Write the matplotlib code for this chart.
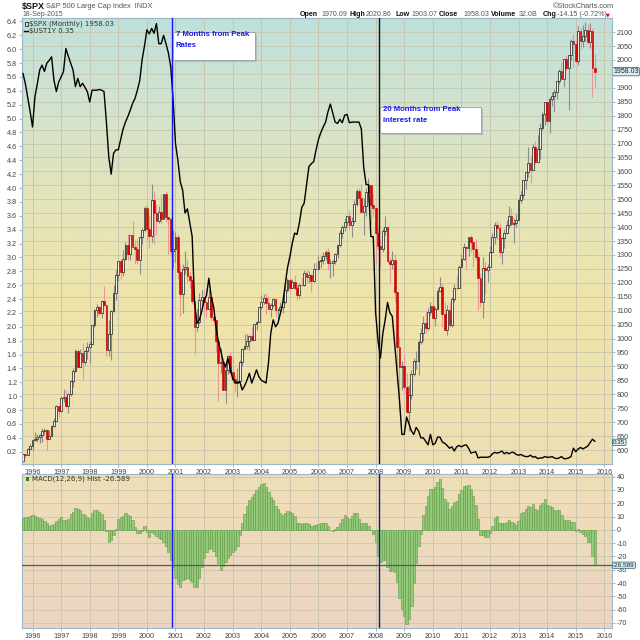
import numpy as np
import matplotlib
matplotlib.use("Agg")
import matplotlib.pyplot as plt
from matplotlib.colors import LinearSegmentedColormap
import matplotlib.transforms as mtransforms
from matplotlib.patches import Rectangle

# ---------------- data (monthly, Sep 1995 .. Sep 2015) ----------------
first_open = 561.88
spx_close = [
    584.41, 581.50, 605.37, 615.93,
    636.02, 640.43, 645.50, 654.17, 669.12, 670.63, 639.95, 651.99, 687.31, 705.27, 757.02, 740.74,
    786.16, 790.82, 757.12, 801.34, 848.28, 885.14, 954.31, 899.47, 947.28, 914.62, 955.40, 970.43,
    980.28, 1049.34, 1101.75, 1111.75, 1090.82, 1133.84, 1120.67, 957.28, 1017.01, 1098.67, 1163.63, 1229.23,
    1279.64, 1238.33, 1286.37, 1335.18, 1301.84, 1372.71, 1328.72, 1320.41, 1282.71, 1362.93, 1388.91, 1469.25,
    1394.46, 1366.42, 1498.58, 1452.43, 1420.60, 1454.60, 1430.83, 1517.68, 1436.51, 1429.40, 1314.95, 1320.28,
    1366.01, 1239.94, 1160.33, 1249.46, 1255.82, 1224.42, 1211.23, 1133.58, 1040.94, 1059.78, 1139.45, 1148.08,
    1130.20, 1106.73, 1147.39, 1076.92, 1067.14, 989.82, 911.62, 916.07, 815.28, 885.76, 936.31, 879.82,
    855.70, 841.15, 848.18, 916.92, 963.59, 974.50, 990.31, 1008.01, 995.97, 1050.71, 1058.20, 1111.92,
    1131.13, 1144.94, 1126.21, 1107.30, 1120.68, 1140.84, 1101.72, 1104.24, 1114.58, 1130.20, 1173.82, 1211.92,
    1181.27, 1203.60, 1180.59, 1156.85, 1191.50, 1191.33, 1234.18, 1220.33, 1228.81, 1207.01, 1249.48, 1248.29,
    1280.08, 1280.66, 1294.87, 1310.61, 1270.09, 1270.20, 1276.66, 1303.82, 1335.85, 1377.94, 1400.63, 1418.30,
    1438.24, 1406.82, 1420.86, 1482.37, 1530.62, 1503.35, 1455.27, 1473.99, 1526.75, 1549.38, 1481.14, 1468.36,
    1378.55, 1330.63, 1322.70, 1385.59, 1400.38, 1280.00, 1267.38, 1282.83, 1166.36, 968.75, 896.24, 903.25,
    825.88, 735.09, 797.87, 872.81, 919.14, 919.32, 987.48, 1020.62, 1057.08, 1036.19, 1095.63, 1115.10,
    1073.87, 1104.49, 1169.43, 1186.69, 1089.41, 1030.71, 1101.60, 1049.33, 1141.20, 1183.26, 1180.55, 1257.64,
    1286.12, 1327.22, 1325.83, 1363.61, 1345.20, 1320.64, 1292.28, 1218.89, 1131.42, 1253.30, 1246.96, 1257.60,
    1312.41, 1365.68, 1408.47, 1397.91, 1310.33, 1362.16, 1379.32, 1406.58, 1440.67, 1412.16, 1416.18, 1426.19,
    1498.11, 1514.68, 1569.19, 1597.57, 1630.74, 1606.28, 1685.73, 1632.97, 1681.55, 1756.54, 1805.81, 1848.36,
    1782.59, 1859.45, 1872.34, 1883.95, 1923.57, 1960.23, 1930.67, 2003.37, 1972.29, 2018.05, 2067.56, 2058.90,
    1994.99, 2104.50, 2067.89, 2085.51, 2107.39, 2063.11, 2103.84, 1972.18, 1958.03]
spx_high = [
    586, 587, 608, 622,
    637, 665, 659, 656, 680, 680, 675, 671, 690, 714, 762, 762,
    794, 818, 815, 804, 853, 894, 962, 961, 961, 983, 960, 987,
    993, 1050, 1106, 1124, 1122, 1139, 1190, 1122, 1066, 1104, 1193, 1245,
    1280, 1284, 1317, 1346, 1376, 1373, 1422, 1353, 1358, 1365, 1397, 1474,
    1478, 1444, 1553, 1528, 1482, 1477, 1518, 1520, 1531, 1437, 1438, 1390,
    1384, 1377, 1267, 1269, 1316, 1287, 1239, 1219, 1133, 1111, 1163, 1173,
    1176, 1131, 1173, 1147, 1107, 1070, 994, 966, 925, 907, 941, 954,
    935, 864, 895, 924, 965, 1015, 1015, 1011, 1040, 1054, 1063, 1112,
    1155, 1159, 1164, 1151, 1128, 1146, 1141, 1110, 1132, 1142, 1188, 1218,
    1218, 1213, 1229, 1192, 1200, 1217, 1246, 1245, 1244, 1233, 1271, 1276,
    1295, 1297, 1310, 1318, 1326, 1284, 1281, 1306, 1340, 1390, 1407, 1432,
    1441, 1461, 1438, 1498, 1535, 1541, 1556, 1504, 1539, 1576, 1545, 1523,
    1471, 1396, 1359, 1397, 1440, 1405, 1292, 1313, 1303, 1167, 1007, 918,
    943, 876, 832, 888, 930, 956, 996, 1039, 1080, 1101, 1111, 1130,
    1151, 1113, 1181, 1220, 1200, 1132, 1120, 1130, 1148, 1196, 1228, 1263,
    1302, 1344, 1332, 1365, 1371, 1346, 1357, 1308, 1230, 1293, 1278, 1269,
    1333, 1378, 1420, 1422, 1415, 1363, 1392, 1427, 1475, 1470, 1434, 1448,
    1509, 1531, 1570, 1598, 1687, 1654, 1698, 1710, 1730, 1775, 1814, 1849,
    1850, 1868, 1884, 1897, 1925, 1968, 1991, 2005, 2019, 2019, 2075, 2093,
    2072, 2120, 2115, 2126, 2135, 2130, 2133, 2113, 2021]
spx_low = [
    562, 572, 581, 602,
    597, 633, 627, 624, 630, 658, 601, 639, 650, 684, 703, 717,
    738, 773, 756, 733, 794, 826, 880, 896, 897, 855, 904, 925,
    912, 979, 1042, 1076, 1084, 1075, 1114, 939, 939, 923, 1095, 1137,
    1206, 1212, 1225, 1282, 1282, 1281, 1328, 1269, 1268, 1233, 1341, 1387,
    1350, 1325, 1346, 1339, 1373, 1416, 1413, 1431, 1419, 1305, 1295, 1254,
    1274, 1215, 1082, 1092, 1232, 1203, 1181, 1124, 945, 1026, 1054, 1114,
    1081, 1074, 1106, 1064, 1048, 953, 776, 877, 815, 768, 872, 872,
    840, 807, 789, 847, 902, 963, 962, 960, 990, 996, 1031, 1058,
    1106, 1124, 1088, 1107, 1076, 1113, 1079, 1060, 1101, 1091, 1127, 1168,
    1163, 1180, 1176, 1137, 1147, 1188, 1190, 1201, 1201, 1168, 1202, 1246,
    1245, 1253, 1268, 1282, 1245, 1219, 1224, 1266, 1290, 1327, 1360, 1385,
    1403, 1389, 1364, 1416, 1476, 1484, 1452, 1371, 1439, 1489, 1407, 1435,
    1270, 1317, 1257, 1312, 1373, 1272, 1200, 1248, 1133, 840, 741, 815,
    804, 735, 667, 783, 866, 889, 869, 979, 992, 1020, 1029, 1086,
    1071, 1045, 1105, 1170, 1041, 1029, 1011, 1040, 1042, 1131, 1173, 1187,
    1257, 1282, 1249, 1295, 1311, 1258, 1283, 1101, 1115, 1075, 1159, 1203,
    1259, 1312, 1341, 1357, 1292, 1267, 1325, 1375, 1396, 1403, 1343, 1399,
    1426, 1485, 1501, 1536, 1581, 1560, 1605, 1627, 1633, 1646, 1747, 1767,
    1770, 1738, 1834, 1814, 1860, 1915, 1930, 1904, 1964, 1821, 2001, 1973,
    1988, 1981, 2040, 2048, 2067, 2056, 2044, 1867, 1903]
ust1y = [
    5.65, 5.50, 5.30, 5.10,
    4.88, 5.31, 5.50, 5.70, 5.77, 5.68, 5.80, 5.84, 5.89, 5.55, 5.39, 5.53,
    5.60, 5.68, 6.01, 5.90, 5.80, 5.70, 5.46, 5.58, 5.46, 5.51, 5.45, 5.39,
    5.24, 5.41, 5.41, 5.41, 5.42, 5.41, 5.39, 4.95, 4.45, 4.20, 4.50, 4.55,
    4.55, 4.70, 4.85, 4.95, 5.03, 5.12, 5.22, 5.29, 5.41, 5.55, 5.85, 6.05,
    6.28, 6.22, 6.30, 6.23, 6.37, 6.08, 6.08, 6.20, 6.08, 5.95, 5.75, 5.27,
    4.64, 4.40, 4.09, 3.97, 3.64, 3.70, 3.50, 3.30, 2.35, 2.05, 2.10, 2.22,
    2.38, 2.45, 2.70, 2.43, 2.29, 2.00, 1.78, 1.65, 1.50, 1.42, 1.55, 1.40,
    1.25, 1.20, 1.19, 1.21, 1.09, 1.15, 1.23, 1.33, 1.19, 1.28, 1.38, 1.28,
    1.23, 1.21, 1.19, 1.47, 1.91, 2.10, 2.00, 2.05, 2.19, 2.34, 2.60, 2.85,
    3.01, 3.20, 3.35, 3.33, 3.50, 3.72, 3.78, 4.05, 4.31, 4.35, 4.38, 4.55,
    4.70, 4.80, 4.88, 4.95, 5.10, 5.21, 5.08, 4.95, 4.93, 4.99, 4.94, 5.05,
    5.06, 4.94, 4.95, 4.95, 4.95, 4.95, 4.85, 4.30, 4.05, 4.05, 3.30, 3.30,
    2.20, 1.80, 1.55, 1.90, 2.10, 2.35, 2.20, 2.15, 1.75, 1.35, 0.95, 0.45,
    0.45, 0.70, 0.60, 0.50, 0.45, 0.55, 0.50, 0.40, 0.40, 0.35, 0.30, 0.45,
    0.30, 0.32, 0.41, 0.41, 0.34, 0.32, 0.29, 0.25, 0.27, 0.21, 0.27, 0.29,
    0.27, 0.29, 0.30, 0.25, 0.18, 0.19, 0.20, 0.11, 0.12, 0.12, 0.12, 0.12,
    0.13, 0.17, 0.19, 0.18, 0.19, 0.21, 0.17, 0.19, 0.17, 0.19, 0.19, 0.16,
    0.15, 0.16, 0.14, 0.13, 0.13, 0.15, 0.12, 0.13, 0.10, 0.11, 0.11, 0.13,
    0.12, 0.12, 0.13, 0.11, 0.10, 0.11, 0.13, 0.10, 0.10, 0.11, 0.13, 0.25,
    0.20, 0.24, 0.26, 0.24, 0.26, 0.28, 0.33, 0.38, 0.35]
macd_hist = [
    9, 9.3, 9.8, 10.3, 10.8, 10.5, 9.8, 8.8, 8, 7, 5, 3, 3.8, 4.3, 6.3, 8, 9.3, 7.5, 7.3, 8, 11.8,
    13.5, 16.5, 15.5, 15, 11.8, 11, 9.8, 8.8, 12.5, 14.8, 15.3, 13.5, 11.8, 7.3, -0.8, -9, -7.5, -4, 0.5, 8,
    9.3, 10.5, 12.5, 11, 10.5, 7.3, 1.8, -2, -2.5, -0.8, 3, -1.5, -5.3, -1.5, -2.8, -4.5, -5.8, -7, -9.5, -12,
    -17, -23, -28, -36, -41, -43, -38, -37, -36.5, -38, -39.5, -43, -43, -36, -28, -21, -16.5, -14.5, -14, -16,
    -20, -25, -30, -27, -24, -21, -19, -17, -15, -12, -4, 5.5, 11.8, 18, 22.5, 24.8, 27, 29.8, 32.5, 34.8,
    35, 32.5, 28.5, 25, 22.5, 18, 15.5, 12.5, 11, 12.5, 14, 13.5, 12.3, 10.5, 5.5, 5, 4.3, 5.5, 5.5, 4.3,
    3, 3.5, 3.5, 4.3, 5, 5.5, 5.5, 3, 0, -1, 0.5, 1.8, 5, 8, 11, 9.3, 8, 10.5, 13, 12.5,
    8, 5, 5, 5.5, 3, 0, -3.3, -9.5, -19.5, -24, -22.5, -23, -28, -31, -31, -32, -39.5, -51, -59.5, -64.5,
    -71, -67, -57, -40, -25, -12, -3,
    11, 18, 25.5, 31, 31, 32.5, 36, 38.5, 31.8, 23.5, 21, 16, 18, 21, 21.8, 26.8, 30, 33, 33, 33.5,
    31, 25.5, 19, 8.5, -4, -4, -5, -5, -2, 3, 9, 10.5, 5.5, 4.8, 4.8, 6, 7.3, 6, 5, 3.8,
    6.8, 12.5, 13.5, 16, 18, 17.3, 19.3, 15.5, 15, 18.8, 20.5, 23, 18.5, 18, 17.3, 15, 14.8, 15, 11, 7.3,
    7.3, 7.3, 6, 6, -0.8, 0.5, -1.5, -3.3, -4.5, -9, -9.5, -19.5, -26.589]
years = list(range(1996, 2017))
first_year, first_month = 1995, 9
event_months = [62.7, 149.6]      # month index of the two vertical markers
event_labels = ["7 Months from Peak\nRates", "20 Months from Peak\ninterest rate"]
last_spx, last_rate, last_hist = 1958.03, 0.35, -26.589

# ---------------- figure ----------------
W = H = 640
fig = plt.figure(figsize=(6.4, 6.4), dpi=100)
fig.patch.set_facecolor("white")

def fx(px):
    return px / W

def fy(py):
    return 1 - py / H

n = len(spx_close)
idx = np.arange(n)
opens = np.array([first_open] + spx_close[:-1])
closes = np.array(spx_close)
highs = np.array(spx_high, dtype=float)
lows = np.array(spx_low, dtype=float)
year_pos = [(y - first_year) * 12 + (1 - first_month) for y in years]
XMIN, XMAX = -0.42, 247.2

L, R = 22, 612
main_top, main_bot = 18, 464
m_top, m_bot = 474, 628
ax = fig.add_axes([fx(L), fy(main_bot), fx(R - L), (main_bot - main_top) / H])
axr = ax.twinx()
axm = fig.add_axes([fx(L), fy(m_bot), fx(R - L), (m_bot - m_top) / H])

tick_font = dict(family="Liberation Sans", size=5.2, color="#444444")

# backgrounds (vertical gradients)
main_cmap = LinearSegmentedColormap.from_list(
    "bgmain", [(0.0, "#eedfb3"), (0.35, "#efe4aa"), (0.62, "#e2e4bd"), (0.85, "#cde3d3"), (1.0, "#c0e0db")])
macd_cmap = LinearSegmentedColormap.from_list("bgmacd", [(0.0, "#ecd4c3"), (1.0, "#efdfb6")])
grad = np.linspace(0, 1, 256).reshape(-1, 1)
SPX_MIN, SPX_MAX = 549.8, 2150.5
ax.imshow(grad, extent=[XMIN, XMAX, SPX_MIN, SPX_MAX], origin="lower", aspect="auto",
          cmap=main_cmap, zorder=0)
M_MIN, M_MAX = -73.8, 42.0
axm.imshow(grad, extent=[XMIN, XMAX, M_MIN, M_MAX], origin="lower", aspect="auto",
           cmap=macd_cmap, zorder=0)

grid_col = "#c9c6ad"
for a in (ax, axm):
    for p in year_pos:
        a.axvline(p, color=grid_col, lw=0.7, zorder=1)
for v in np.arange(600, 2101, 50):
    ax.axhline(v, color=grid_col, lw=0.6, zorder=1)
for v in np.arange(-70, 41, 10):
    axm.axhline(v, color=grid_col, lw=0.6, zorder=1)

# candles
up = closes >= opens
wick_col = np.where(up, "#8c8c8c", "#e59a9a")
ax.vlines(idx, lows, highs, colors=wick_col, lw=0.8, zorder=2)
body_lo = np.minimum(opens, closes)
body_h = np.maximum(np.abs(closes - opens), 1.5)
ax.bar(idx[up], body_h[up], bottom=body_lo[up], width=0.75, facecolor="#f4f1e4",
       edgecolor="#1a1a1a", lw=0.5, zorder=3)
ax.bar(idx[~up], body_h[~up], bottom=body_lo[~up], width=0.75, facecolor="#e00000",
       edgecolor="#c00000", lw=0.4, zorder=3)

ax.set_xlim(XMIN, XMAX)
ax.set_ylim(SPX_MIN, SPX_MAX)
ax.yaxis.tick_right()
spx_ticks = list(range(600, 2101, 50))
ax.set_yticks(spx_ticks)
# the 1950 label sits under the last-value tag, as in the reference
ax.set_yticklabels(["" if v == 1950 else str(v) for v in spx_ticks], **tick_font)
# nudge the 650 label up a little so it stays readable above the 0.35 tag
for lbl, v in zip(ax.get_yticklabels(), spx_ticks):
    if v == 650:
        lbl.set_transform(lbl.get_transform() + mtransforms.ScaledTranslation(0, 2.5 / 100, fig.dpi_scale_trans))

# rate line
axr.plot(idx, ust1y, color="black", lw=1.0, zorder=5)
axr.set_ylim(0.0228, 6.45)
axr.yaxis.tick_left()
rt = np.round(np.arange(0.2, 6.41, 0.2), 1)
axr.set_yticks(rt)
axr.set_yticklabels([f"{v:.1f}" for v in rt], **tick_font)

# vertical event markers
axr.axvline(event_months[0], color="#1515ff", lw=1.0, zorder=6)
axr.axvline(event_months[1], color="#111111", lw=1.0, zorder=6)
axm.axvline(event_months[0], color="#1515ff", lw=1.0, zorder=6)
axm.axvline(event_months[1], color="#14148a", lw=1.0, zorder=6)

# MACD histogram
axm.bar(idx, macd_hist, width=0.95, color="#94c97a", edgecolor="#5e9c45", lw=0.4, zorder=3)
axm.axhline(last_hist, color="#55557a", lw=0.9, zorder=4)
axm.set_xlim(XMIN, XMAX)
axm.set_ylim(M_MIN, M_MAX)
axm.yaxis.tick_right()
mt = np.arange(-70, 41, 10)
axm.set_yticks(mt)
axm.set_yticklabels([str(v) for v in mt], **tick_font)

for a in (ax, axm):
    a.set_xticks(year_pos)
    a.set_xticklabels([str(y) for y in years], **tick_font)
ax.set_xlim(XMIN, XMAX)
for a in (ax, axr, axm):
    a.tick_params(axis="both", length=2, width=0.5, color="#999999", pad=1.5)
    for s in a.spines.values():
        s.set_color("#9fb8c8")
        s.set_linestyle((0, (1, 1)))
        s.set_linewidth(0.8)

# annotation boxes
box_specs = [(173, 32, 82, 28, 176, 40), (380, 107, 101, 26, 383, 115)]
for (bx, by, bw, bh, tx, ty), lab in zip(box_specs, event_labels):
    fig.patches.append(Rectangle((fx(bx + 2), fy(by + bh + 2)), fx(bw), bh / H,
                                 transform=fig.transFigure, fc="#bbbbbb", ec="none", zorder=8))
    fig.patches.append(Rectangle((fx(bx), fy(by + bh)), fx(bw), bh / H,
                                 transform=fig.transFigure, fc="white", ec="#999999", lw=0.6, zorder=9))
    fig.text(fx(tx), fy(ty), lab, ha="left", va="center", fontsize=5.6, fontweight="bold",
             color="#1a1ae6", family="Liberation Sans", linespacing=1.75, zorder=10)

# header
fig.text(fx(22), fy(6), "$SPX", fontsize=6.5, fontweight="bold", family="Liberation Sans",
         va="center", ha="left", color="#111111")
fig.text(fx(46), fy(6), "S&P 500 Large Cap Index  INDX", fontsize=5.3, family="Liberation Sans",
         va="center", ha="left", color="#555555")
fig.text(fx(22), fy(15), "18-Sep-2015", fontsize=5.0, family="Liberation Sans",
         va="center", ha="left", color="#555555")
fig.text(fx(553), fy(6), "\u00a9StockCharts.com", fontsize=5.3, family="Liberation Sans",
         va="center", ha="left", color="#555555")
hdr = [("Open", 300, True), ("1970.09", 322, False), ("High", 349, True), ("2020.86", 366, False),
       ("Low", 395, True), ("1903.07", 411, False), ("Close", 439, True), ("1958.03", 463, False),
       ("Volume", 491, True), ("32.0B", 519, False), ("Chg", 543, True), ("-14.15 (-0.72%)", 557, False)]
for t, xx, b in hdr:
    fig.text(fx(xx), fy(15), t, fontsize=5.1, family="Liberation Sans", va="center", ha="left",
             fontweight="bold" if b else "normal", color="#111111" if b else "#555555")
fig.text(fx(606), fy(15), "\u25bc", fontsize=3.5, family="DejaVu Sans", va="center", ha="left",
         color="#cc0000")

# legends
fig.text(fx(29), fy(24), "$SPX (Monthly) 1958.03", fontsize=5.0, family="DejaVu Sans",
         va="center", ha="left", color="#333333")
fig.text(fx(29), fy(31), "$UST1Y 0.35", fontsize=5.0, family="DejaVu Sans",
         va="center", ha="left", color="#333333")
fig.lines.append(plt.Line2D([fx(24), fx(28)], [fy(31), fy(31)], color="black", lw=1.0,
                            transform=fig.transFigure))
fig.patches.append(Rectangle((fx(24.5), fy(26)), fx(3), 4 / H, transform=fig.transFigure,
                             fc="none", ec="#222222", lw=0.6))
fig.text(fx(32), fy(479), "MACD(12,26,9) Hist -26.589", fontsize=5.0, family="DejaVu Sans",
         va="center", ha="left", color="#333333")
fig.patches.append(Rectangle((fx(25.5), fy(481)), fx(3.5), 4 / H, transform=fig.transFigure,
                             fc="#2e7d2e", ec="none"))

# last value tags
tag = dict(boxstyle="round,pad=0.1,rounding_size=0.2", fc="#d6eef4", ec="#3d6f80", lw=0.6)
ax.text(1.002, last_spx, f"{last_spx:.2f}", transform=mtransforms.blended_transform_factory(ax.transAxes, ax.transData),
        ha="left", va="center", fontsize=5.0, family="Liberation Sans", color="#222222", bbox=tag, zorder=10, clip_on=False)
axr.text(1.002, last_rate, f"{last_rate:.2f}", transform=mtransforms.blended_transform_factory(axr.transAxes, axr.transData)
         + mtransforms.ScaledTranslation(0, -1.0 / 100, fig.dpi_scale_trans),
         ha="left", va="center", fontsize=4.5, family="Liberation Sans", color="#222222", bbox=tag, zorder=10, clip_on=False)
axm.text(1.002, last_hist, f"{last_hist:.3f}", transform=mtransforms.blended_transform_factory(axm.transAxes, axm.transData),
         ha="left", va="center", fontsize=4.6, family="Liberation Sans", color="#222222", bbox=tag, zorder=10, clip_on=False)

fig.savefig("out.png", dpi=100, facecolor="white")
